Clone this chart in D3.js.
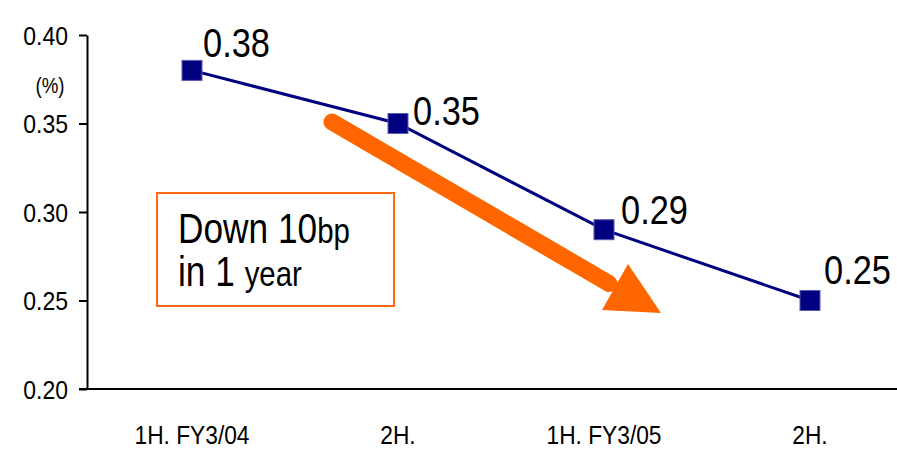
<!DOCTYPE html>
<html>
<head>
<meta charset="utf-8">
<script src="https://cdn.jsdelivr.net/npm/d3@7"></script>
<style>
  html, body { margin: 0; padding: 0; background: #fff; }
  svg { display: block; }
  text { font-family: "Liberation Sans", Arial, sans-serif; fill: #000; }
</style>
</head>
<body>
<svg id="chart" width="897" height="449"></svg>
<script>
const categories = ["1H. FY3/04", "2H.", "1H. FY3/05", "2H."];
const values = [0.38, 0.35, 0.29, 0.25];
const valueLabels = ["0.38", "0.35", "0.29", "0.25"];
const yTicks = [0.20, 0.25, 0.30, 0.35, 0.40];
const yTickLabels = ["0.20", "0.25", "0.30", "0.35", "0.40"];
const unitLabel = "(%)";

(function () {
const svg = d3.select("#chart");
const W = 897, H = 449;
const axisX = 87, plotTop = 35, plotBottom = 389;

const x = d3.scaleBand().domain(d3.range(categories.length)).range([89, 913]).padding(0);
const y = d3.scaleLinear().domain([0.20, 0.40]).range([plotBottom, plotTop]);
const cx = i => x(i) + x.bandwidth() / 2;

// Y axis
const yAxis = d3.axisLeft(y).tickValues(yTicks).tickSize(8).tickSizeOuter(0)
  .tickFormat((d, i) => yTickLabels[i]);
const gy = svg.append("g").attr("transform", `translate(${axisX},0)`).call(yAxis);
gy.select(".domain").attr("stroke", "#000").attr("stroke-width", 2);
gy.selectAll(".tick line").attr("stroke", "#000").attr("stroke-width", 2);
gy.selectAll(".tick text").remove();
gy.selectAll(".tick").append("text")
  .attr("transform", "translate(-19,0) scale(0.92,1)")
  .attr("dy", "0.36em")
  .attr("text-anchor", "end")
  .style("font-size", "25px")
  .text((d, i) => yTickLabels[i]);

// X axis line
svg.append("line").attr("x1", axisX - 8).attr("x2", W).attr("y1", plotBottom).attr("y2", plotBottom)
  .attr("stroke", "#000").attr("stroke-width", 2);

// X labels
svg.selectAll(".xlab").data(categories).enter().append("text")
  .attr("class", "xlab")
  .attr("transform", (d, i) => `translate(${cx(i)},444) scale(0.91,1)`)
  .attr("text-anchor", "middle")
  .style("font-size", "25px")
  .text(d => d);

// unit label
svg.append("text").attr("transform", "translate(50,93) scale(0.85,1)")
  .attr("text-anchor", "middle").style("font-size", "22px").text(unitLabel);

// Orange text box
svg.append("rect").attr("x", 157).attr("y", 193).attr("width", 237).attr("height", 113)
  .attr("fill", "#fff").attr("stroke", "#FF6A10").attr("stroke-width", 2);
const t1 = svg.append("text").attr("transform", "translate(178,243) scale(0.84,1)").style("font-size", "42px");
t1.append("tspan").text("Down 10");
t1.append("tspan").style("font-size", "35px").text("bp");
const t2 = svg.append("text").attr("transform", "translate(178,286) scale(0.84,1)").style("font-size", "42px");
t2.append("tspan").text("in 1 ");
t2.append("tspan").style("font-size", "35px").text("year");

// Orange arrow (annotation)
const aStart = [332, 122], aBaseMid = [615, 287], aTip = [661, 313];
svg.append("line").attr("x1", aStart[0]).attr("y1", aStart[1])
  .attr("x2", aBaseMid[0] - 6).attr("y2", aBaseMid[1] - 3.5)
  .attr("stroke", "#FF6600").attr("stroke-width", 17).attr("stroke-linecap", "round");
svg.append("path").attr("d", d3.line()([[628, 264], [602, 310], aTip]))
  .attr("fill", "#FF6600");

// Data line
svg.append("path").datum(values)
  .attr("d", d3.line().x((d, i) => cx(i)).y(d => y(d)))
  .attr("fill", "none").attr("stroke", "#000080").attr("stroke-width", 3);

// Markers
const ms = 20;
svg.selectAll(".mk").data(values).enter().append("rect")
  .attr("x", (d, i) => cx(i) - ms / 2).attr("y", d => y(d) - ms / 2)
  .attr("width", ms).attr("height", ms)
  .attr("fill", "#000080").attr("stroke", "#5a5ab0").attr("stroke-width", 1);

// Value labels (per-label offsets from marker centre)
const labelOffset = [[11, -13], [15, 1], [17, -6], [14, -17]];
svg.selectAll(".vl").data(values).enter().append("text")
  .attr("transform", (d, i) => `translate(${cx(i) + labelOffset[i][0]},${y(d) + labelOffset[i][1]}) scale(0.86,1)`)
  .style("font-size", "40px")
  .text((d, i) => valueLabels[i]);
})();
</script>
</body>
</html>
